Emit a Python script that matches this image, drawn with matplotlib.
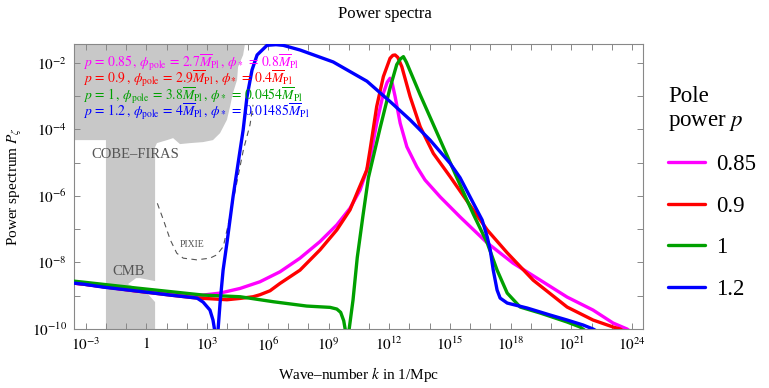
import matplotlib
matplotlib.use("Agg")
import matplotlib.pyplot as plt
import numpy as np

plt.rcParams["font.family"] = ["Liberation Serif", "DejaVu Serif"]
plt.rcParams["mathtext.fontset"] = "stix"

# log10 of wave-number k [1/Mpc] and log10 of power spectrum P_zeta, one pair per pole power p
K_085 = [-3.6, -3.13, -0.46, 1.17, 2.50, 3.64, 4.63, 5.61, 6.60, 7.59, 8.58, 9.41, 10.06, 10.56, 10.85,
         11.05, 11.38, 11.71, 11.90, 12.04, 12.15, 12.29, 12.54, 12.87, 13.36, 13.77, 14.52, 15.50,
         16.84, 18.12, 19.46, 20.79, 22.07, 23.06, 23.75, 24.1]
P_085 = [-8.62, -8.65, -8.86, -8.95, -9.00, -8.92, -8.78, -8.58, -8.28, -7.87, -7.37, -6.87, -6.37,
         -5.82, -5.30, -4.90, -3.81, -2.91, -2.58, -2.46, -2.62, -3.01, -3.81, -4.52, -5.12, -5.52,
         -6.03, -6.63, -7.41, -8.02, -8.53, -9.04, -9.43, -9.82, -10.0, -10.15]

K_09 = [-3.6, -3.13, -0.46, 1.17, 2.50, 3.14, 3.98, 4.63, 5.27, 5.61, 6.11, 6.60, 7.59, 8.58, 9.41,
        10.06, 10.47, 10.89, 11.05, 11.38, 11.71, 12.04, 12.18, 12.29, 12.42, 12.62, 13.03, 13.53,
        14.18, 15.01, 16.15, 16.84, 17.83, 19.11, 20.79, 22.07, 23.06, 23.41, 23.8]
P_09 = [-8.62, -8.65, -8.86, -8.98, -9.07, -9.09, -9.12, -9.08, -9.03, -8.97, -8.85, -8.63, -8.23,
        -7.62, -7.02, -6.42, -5.82, -5.22, -4.62, -3.31, -2.41, -1.86, -1.77, -1.76, -1.83, -2.11,
        -3.01, -3.92, -4.72, -5.42, -6.42, -7.02, -7.71, -8.53, -9.34, -9.73, -9.94, -10.0, -10.15]

K_1 = [-3.6, -3.13, -0.46, 2.80, 4.63, 6.27, 7.92, 9.08, 9.41, 9.60, 9.75, 9.85, 9.92, 10.02, 10.21,
       10.42, 10.70, 10.97, 11.55, 12.04, 12.37, 12.55, 12.70, 12.85, 13.53, 14.52, 15.35, 16.15,
       16.84, 17.33, 17.83, 18.47, 19.46, 20.79, 21.43, 21.8]
P_1 = [-8.56, -8.59, -8.77, -8.98, -9.03, -9.18, -9.31, -9.35, -9.40, -9.50, -9.75, -10.1, -11.0,
       -10.0, -9.13, -7.85, -6.60, -5.45, -3.95, -2.75, -2.05, -1.88, -1.81, -1.98, -2.96, -4.32,
       -5.46, -6.54, -7.41, -8.23, -8.92, -9.34, -9.52, -9.79, -9.94, -10.1]

K_12 = [-3.6, -3.13, -2.14, -0.46, 1.17, 2.50, 2.80, 3.14, 3.29, 3.39, 3.46, 3.54, 3.64, 3.79, 3.98,
        4.28, 4.63, 4.78, 4.97, 5.22, 5.47, 5.96, 6.40, 6.76, 7.59, 9.23, 10.90, 12.04, 13.03, 14.02,
        15.01, 15.50, 16.15, 16.59, 16.84, 16.99, 17.14, 17.33, 17.48, 17.83, 18.82, 19.95, 20.79,
        21.58, 22.07, 22.5]
P_12 = [-8.62, -8.65, -8.74, -8.86, -8.98, -9.07, -9.19, -9.43, -9.73, -10.1, -11.5, -10.03, -9.22,
        -8.23, -7.41, -6.03, -4.62, -4.02, -3.02, -2.21, -1.76, -1.47, -1.45, -1.47, -1.61, -1.97,
        -2.55, -3.16, -3.71, -4.32, -5.02, -5.45, -6.21, -6.72, -7.23, -7.62, -8.23, -8.83, -9.07,
        -9.22, -9.37, -9.58, -9.73, -9.88, -10.0, -10.15]

SERIES_LABELS = ["0.85", "0.9", "1", "1.2"]
SERIES_COLORS = ["#ff00ff", "#ff0000", "#00a000", "#0000ff"]
ANNOTATIONS = [
    r"$p\,=\,0.85\,,\,\phi_{\mathrm{pole}}\,=\,2.7\overline{M}_{\mathrm{Pl}}\,,\,\phi_*\,=\,0.8\overline{M}_{\mathrm{Pl}}$",
    r"$p\,=\,0.9\,,\,\phi_{\mathrm{pole}}\,=\,2.9\overline{M}_{\mathrm{Pl}}\,,\,\phi_*\,=\,0.4\overline{M}_{\mathrm{Pl}}$",
    r"$p\,=\,1\,,\,\phi_{\mathrm{pole}}\,=\,3.8\overline{M}_{\mathrm{Pl}}\,,\,\phi_*\,=\,0.0454\overline{M}_{\mathrm{Pl}}$",
    r"$p\,=\,1.2\,,\,\phi_{\mathrm{pole}}\,=\,4\overline{M}_{\mathrm{Pl}}\,,\,\phi_*\,=\,0.01485\overline{M}_{\mathrm{Pl}}$",
]

# excluded region (COBE-FIRAS + CMB), log10 k and log10 P
COBE_LOGK = [-4.0, 4.87, 4.87, 4.78, 4.53, 4.48, 4.28, 4.13, 3.98, 3.64, 3.29, 2.80, 2.16, 1.66, 1.32,
             1.02, 0.52, 0.43, 0.43, -0.32, -0.51, -0.91, 0.03, 0.43, 0.43, -2.0, -2.0, -4.0]
COBE_LOGP = [-1.0, -1.0, -1.43, -1.76, -2.12, -2.51, -2.90, -3.32, -3.71, -4.11, -4.32, -4.38, -4.41,
             -4.44, -4.26, -4.32, -4.41, -4.53, -8.56, -8.47, -8.47, -8.65, -8.92, -9.19, -11.0, -11.0,
             -4.32, -4.32]

# PIXIE forecast sensitivity
PIXIE_LOGK = [0.54, 0.84, 1.18, 1.50, 1.82, 2.49, 3.14, 3.48, 3.80, 4.13, 4.46, 4.79, 5.12, 5.27]
PIXIE_LOGP = [-6.22, -6.72, -7.32, -7.72, -7.87, -7.92, -7.87, -7.77, -7.52, -6.62, -5.62, -4.62, -3.86, -3.26]

fig = plt.figure(figsize=(7.69, 3.88), dpi=100)
ax = fig.add_axes([74 / 769, 59 / 388, 569 / 769, 285 / 388])

ax.fill(10.0 ** np.array(COBE_LOGK), 10.0 ** np.array(COBE_LOGP), color="#c8c8c8", lw=0, zorder=1)
ax.plot(10.0 ** np.array(PIXIE_LOGK), 10.0 ** np.array(PIXIE_LOGP), color="#555555", lw=0.8,
        linestyle=(0, (5, 4)), zorder=2)

handles = []
for logk, logp, color in zip([K_085, K_09, K_1, K_12], [P_085, P_09, P_1, P_12], SERIES_COLORS):
    (line,) = ax.plot(10.0 ** np.array(logk), 10.0 ** np.array(logp), color=color, lw=2.4,
                      solid_joinstyle="round", solid_capstyle="round", zorder=3)
    handles.append(line)

for i, (txt, color) in enumerate(zip(ANNOTATIONS, SERIES_COLORS)):
    ax.text(10.0 ** -3.12, 10.0 ** (-2.0 - 0.49 * i), txt, color=color, fontsize=9.8,
            va="center", ha="left", zorder=5)

ax.text(10.0 ** -2.74, 10.0 ** -4.74, "COBE\u2013FIRAS", color="#555555", fontsize=10.5,
        va="center", ha="left", zorder=4)
ax.text(10.0 ** -0.86, 10.0 ** -8.26, "CMB", color="#555555", fontsize=10.5,
        va="center", ha="center", zorder=4)
ax.text(10.0 ** 2.25, 10.0 ** -7.47, "PIXIE", color="#555555", fontsize=7,
        va="center", ha="center", zorder=4)

ax.set_xscale("log")
ax.set_yscale("log")
ax.set_xlim(10.0 ** -3.578, 10.0 ** 24.54)
ax.set_ylim(1e-10, 10.0 ** -1.43)


def tick_label(e):
    if e == 0:
        return "$1$"
    return "$10^{%d}$" % e


x_exps = list(range(-3, 25))
y_exps = list(range(-10, -1))
ax.set_xticks([10.0 ** e for e in x_exps])
ax.set_xticklabels([tick_label(e) if e % 3 == 0 else "" for e in x_exps])
ax.set_yticks([10.0 ** e for e in y_exps])
ax.set_yticklabels([tick_label(e) if e % 2 == 0 else "" for e in y_exps])
ax.minorticks_off()
ax.tick_params(which="both", direction="in", top=True, right=True, length=4, width=0.7,
               color="#888888", labelsize=11, pad=5)
for spine in ax.spines.values():
    spine.set_color("#888888")
    spine.set_linewidth(0.8)

ax.set_xlabel("Wave\u2013number $k$ in 1/Mpc", fontsize=11, labelpad=8)
ax.set_ylabel(r"Power spectrum $P_\zeta$", fontsize=11, labelpad=6)
fig.text(0.5, 0.965, "Power spectra", ha="center", va="center", fontsize=12)

leg = fig.legend(handles, SERIES_LABELS, loc="upper left", bbox_to_anchor=(659 / 769, 1 - 77 / 388),
                 frameon=False, title="Pole\npower $p$", fontsize=16.5, title_fontsize=16.5,
                 handlelength=1.6, handletextpad=0.5, labelspacing=0.9, alignment="left",
                 borderaxespad=0.0)

fig.savefig("out.png", dpi=100)
